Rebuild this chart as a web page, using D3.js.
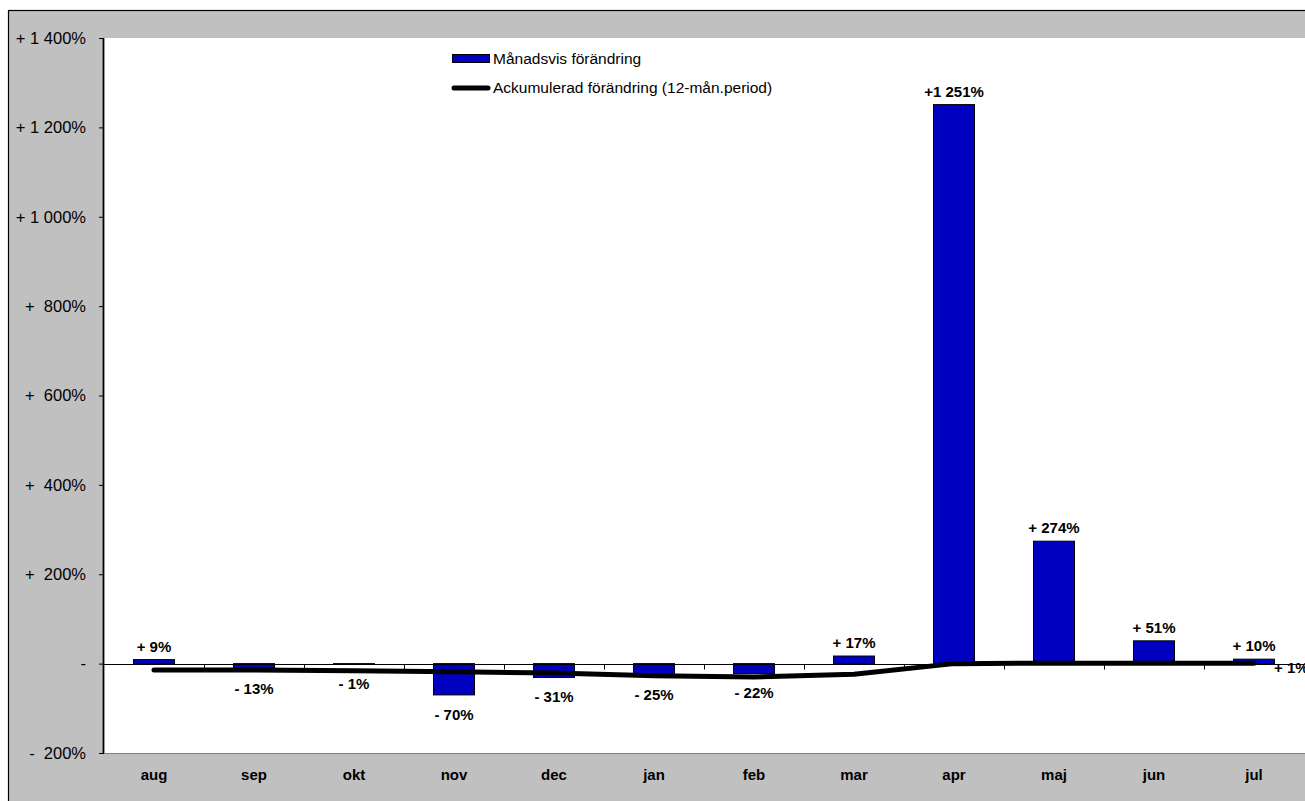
<!DOCTYPE html>
<html><head><meta charset="utf-8">
<script src="https://cdn.jsdelivr.net/npm/d3@7"></script>
<style>body{margin:0;overflow:hidden;background:#fff}svg{display:block}text{font-family:"Liberation Sans",Arial,sans-serif}</style>
</head><body><svg id="c" width="1305" height="801"></svg>
<script>
const categories = ["aug","sep","okt","nov","dec","jan","feb","mar","apr","maj","jun","jul"];
const monthly = [9,-13,-1,-70,-31,-25,-22,17,1251,274,51,10];
const monthlyLabels = ["+ 9%","- 13%","- 1%","- 70%","- 31%","- 25%","- 22%","+ 17%","+1 251%","+ 274%","+ 51%","+ 10%"];
const cumulative = [-14,-14,-16,-18,-21,-27,-30,-24,0,1,1,1];
const cumulativeLastLabel = "+ 1%";
const yTicks = [-200,0,200,400,600,800,1000,1200,1400];
const yTickLabels = ["-\u00a0\u00a0200%","-","+\u00a0\u00a0200%","+\u00a0\u00a0400%","+\u00a0\u00a0600%","+\u00a0\u00a0800%","+ 1 000%","+ 1 200%","+ 1 400%"];
const seriesNames = ["Månadsvis förändring","Ackumulerad förändring (12-mån.period)"];

const svg = d3.select("#c");
const L=104, R=1304, T=38, B=753;
const blue="#0000c0";

svg.append("rect").attr("x",8.5).attr("y",10.5).attr("width",1310).attr("height",800)
  .attr("fill","#c0c0c0").attr("stroke","#000").attr("stroke-width",1.2);
svg.append("rect").attr("x",L).attr("y",T).attr("width",1305-L).attr("height",B-T).attr("fill","#fff");
svg.append("line").attr("x1",L).attr("x2",1305).attr("y1",B+0.5).attr("y2",B+0.5).attr("stroke","#808080");

const xc = d3.scaleBand().domain(categories).range([L,R]).padding(0);
const xb = d3.scaleBand().domain(categories).range([L,R]).paddingInner(0.59).paddingOuter(0.295);
const y = d3.scaleLinear().domain([-200,1400]).range([B,T]);

// y axis
const ya = svg.append("g").attr("transform",`translate(${L},0)`)
  .call(d3.axisLeft(y).tickValues(yTicks).tickSize(5).tickPadding(13)
    .tickFormat((d,i)=>yTickLabels[i]));
ya.select(".domain").attr("stroke","#000").attr("stroke-width",1.8).attr("d",`M-0.5,${T}V${B}`);
ya.selectAll(".tick line").attr("stroke","#000");
ya.selectAll(".tick text").attr("font-size",16.5).attr("fill","#000").attr("font-family","Liberation Sans, Arial");

// bars
svg.append("g").selectAll("rect").data(monthly).join("rect")
  .attr("x",(d,i)=>xb(categories[i]))
  .attr("width",xb.bandwidth())
  .attr("y",d=>y(Math.max(0,d)))
  .attr("height",d=>Math.abs(y(d)-y(0)))
  .attr("fill",blue).attr("stroke","#000").attr("stroke-width",1);

// x axis at zero
const y0 = Math.round(y(0))+0.5;
svg.append("line").attr("x1",L).attr("x2",R).attr("y1",y0).attr("y2",y0).attr("stroke","#000").attr("stroke-width",1);
svg.append("g").selectAll("line").data(categories.slice(1)).join("line")
  .attr("x1",d=>Math.round(xc(d))+0.5).attr("x2",d=>Math.round(xc(d))+0.5)
  .attr("y1",y0).attr("y2",y0+5).attr("stroke","#000");

// category labels
svg.append("g").selectAll("text").data(categories).join("text")
  .attr("x",d=>xc(d)+xc.bandwidth()/2).attr("y",780)
  .attr("text-anchor","middle").attr("font-size",15).attr("font-weight","bold").text(d=>d);

// cumulative line
const line = d3.line().x((d,i)=>xc(categories[i])+xc.bandwidth()/2).y(d=>y(d));
svg.append("path").datum(cumulative).attr("d",line).attr("fill","none")
  .attr("stroke","#000").attr("stroke-width",5).attr("stroke-linecap","round").attr("stroke-linejoin","round");

// bar labels
svg.append("g").selectAll("text").data(monthly).join("text")
  .attr("x",(d,i)=>xc(categories[i])+xc.bandwidth()/2)
  .attr("y",d=> d>=0 ? y(d)-8 : y(d)+25)
  .attr("text-anchor","middle").attr("font-size",15).attr("font-weight","bold")
  .text((d,i)=>monthlyLabels[i]);

// last cumulative label
const li = cumulative.length-1;
svg.append("text").attr("x",xc(categories[li])+xc.bandwidth()/2+20).attr("y",y(cumulative[li])+10)
  .attr("font-size",15).attr("font-weight","bold").text(cumulativeLastLabel);

// legend
const lg = svg.append("g");
lg.append("rect").attr("x",452.5).attr("y",54.5).attr("width",37).attr("height",8).attr("fill",blue).attr("stroke","#000");
lg.append("line").attr("x1",454).attr("x2",488).attr("y1",88).attr("y2",88).attr("stroke","#000").attr("stroke-width",5).attr("stroke-linecap","round");
lg.append("text").attr("x",493).attr("y",64).attr("font-size",15.5).text(seriesNames[0]);
lg.append("text").attr("x",493).attr("y",93).attr("font-size",15.5).text(seriesNames[1]);
</script></body></html>
